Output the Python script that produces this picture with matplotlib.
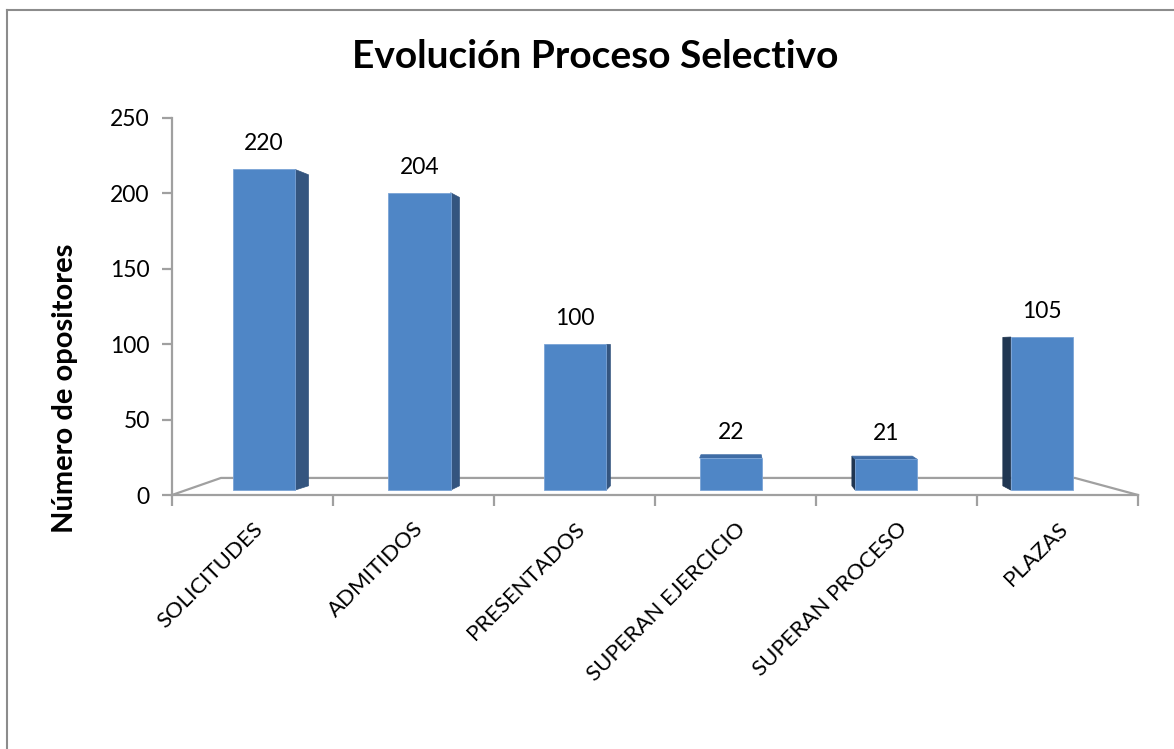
import matplotlib
matplotlib.use("Agg")
import matplotlib.pyplot as plt
from matplotlib.patches import Polygon
from matplotlib.lines import Line2D

# --- data ---
categories = ["SOLICITUDES", "ADMITIDOS", "PRESENTADOS",
              "SUPERAN EJERCICIO", "SUPERAN PROCESO", "PLAZAS"]
values = [220, 204, 100, 22, 21, 105]
y_ticks = [0, 50, 100, 150, 200, 250]

# --- fake 3D (Excel style) projection settings ---
VX_POS, VY = 2.62, 97.5     # vanishing point used to place the bars
VX_SIDE = 3.55              # vanishing point used for side faces
DEPTH_FRONT = 0.9665        # bar front face depth
DEPTH_BACK = 0.97           # back face relative to front face
FLOOR_DEPTH = 0.884         # back edge of the floor
BAR_W = 0.40

FRONT = "#4f86c6"
SIDE_R = "#34557f"
SIDE_L = "#203651"
TOP = "#3f6ca5"
GRID = "#a0a0a0"

plt.rcParams["font.family"] = ["Lato", "DejaVu Sans"]


def proj(x, y, s, vx):
    return vx + s * (x - vx), VY + s * (y - VY)


fig = plt.figure(figsize=(11.74, 7.49), dpi=100)
ax = fig.add_axes([172 / 1174, 254 / 749, 966 / 1174, 377 / 749])
ax.set_xlim(0, len(categories))
ax.set_ylim(y_ticks[0], y_ticks[-1])

# floor (back edge and side edges)
n = len(categories)
bl = proj(0, 0, FLOOR_DEPTH, VX_POS)
br = proj(n, 0, FLOOR_DEPTH, VX_POS)
ax.plot([0, bl[0], br[0], n], [0, bl[1], br[1], 0], color=GRID, lw=1.6,
        clip_on=False, zorder=1)

for i, v in enumerate(values):
    c = i + 0.5
    xl, xr = c - BAR_W / 2, c + BAR_W / 2
    fl_b = proj(xl, 0, DEPTH_FRONT, VX_POS)
    fr_b = proj(xr, 0, DEPTH_FRONT, VX_POS)
    fl_t = proj(xl, v, DEPTH_FRONT, VX_POS)
    fr_t = proj(xr, v, DEPTH_FRONT, VX_POS)
    back = lambda p: proj(p[0], p[1], DEPTH_BACK, VX_SIDE)
    bl_b, br_b, bl_t, br_t = back(fl_b), back(fr_b), back(fl_t), back(fr_t)

    if fr_b[0] < VX_SIDE:
        ax.add_patch(Polygon([fr_b, fr_t, br_t, br_b], closed=True,
                             facecolor=SIDE_R, edgecolor=SIDE_R, lw=0.5,
                             zorder=2, clip_on=False))
    if fl_b[0] > VX_SIDE:
        ax.add_patch(Polygon([fl_b, fl_t, bl_t, bl_b], closed=True,
                             facecolor=SIDE_L, edgecolor=SIDE_L, lw=0.5,
                             zorder=2, clip_on=False))
    if fl_t[1] < VY:
        ax.add_patch(Polygon([fl_t, fr_t, br_t, bl_t], closed=True,
                             facecolor=TOP, edgecolor=TOP, lw=0.5,
                             zorder=2, clip_on=False))
    ax.add_patch(Polygon([fl_b, fr_b, fr_t, fl_t], closed=True,
                         facecolor=FRONT, edgecolor="#7aa3d6", lw=0.6,
                         zorder=3, clip_on=False))
    lx = (fl_t[0] + fr_t[0]) / 2
    ax.text(lx, fr_t[1] + 10, str(v), ha="center", va="bottom",
            fontsize=16.5, color="black", zorder=4)

# axes styling
for side in ["top", "right"]:
    ax.spines[side].set_visible(False)
for side in ["left", "bottom"]:
    ax.spines[side].set_color(GRID)
    ax.spines[side].set_linewidth(1.6)
ax.set_yticks(y_ticks)
ax.set_yticklabels([str(t) for t in y_ticks], fontsize=16.5)
ax.tick_params(axis="y", direction="out", length=7, width=1.6, color=GRID,
               pad=9)
ax.set_xticks(range(n + 1))
ax.set_xticklabels([])
ax.tick_params(axis="x", which="major", direction="out", length=8,
               width=1.6, color=GRID)
ax.set_xticks([i + 0.5 for i in range(n)], minor=True)
ax.set_xticklabels(categories, minor=True, rotation=45, ha="right",
                   rotation_mode="anchor", fontsize=16)
ax.tick_params(axis="x", which="minor", length=0, pad=17)
ax.patch.set_visible(False)

fig.text(0.507, 0.924, "Evolución Proceso Selectivo", ha="center",
         va="center", fontsize=28, fontweight="bold")
fig.text(65 / 1174, 0.482, "Número de opositores", ha="center",
         va="center", rotation=90, fontsize=21, fontweight="bold")

# chart border
fig.add_artist(Line2D([7 / 1174, 7 / 1174], [0, 1 - 10 / 749],
                      transform=fig.transFigure, color="#8c8c8c", lw=1.5))
fig.add_artist(Line2D([7 / 1174, 1], [1 - 10 / 749, 1 - 10 / 749],
                      transform=fig.transFigure, color="#8c8c8c", lw=1.5))

fig.savefig("out.png", dpi=100)
